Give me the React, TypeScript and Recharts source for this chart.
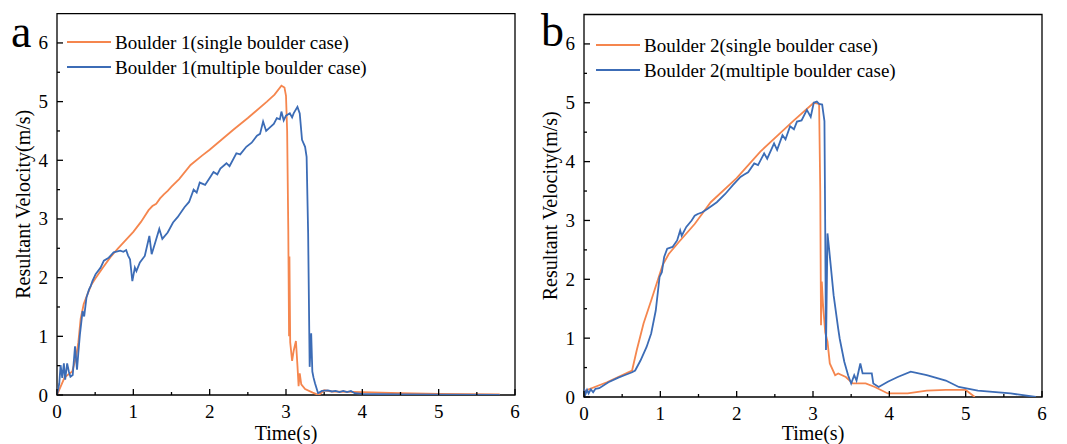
import React from 'react';
import { LineChart, Line, XAxis, YAxis, ReferenceArea, Legend, Customized } from 'recharts';

const timeTicks = [0, 0.5, 1, 1.5, 2, 2.5, 3, 3.5, 4, 4.5, 5, 5.5, 6];
const velocityTicks = [0, 0.5, 1, 1.5, 2, 2.5, 3, 3.5, 4, 4.5, 5, 5.5, 6];

const boulder1Single: [number, number][] = [
  [0, 0], [0.1, 0.3], [0.2, 0.4], [0.25, 0.65], [0.28, 0.9], [0.31, 1.3], [0.35, 1.55], [0.4, 1.72],
  [0.45, 1.88], [0.5, 1.98], [0.6, 2.17], [0.7, 2.35], [0.8, 2.5], [1.0, 2.78], [1.1, 2.95], [1.2, 3.15],
  [1.25, 3.22], [1.3, 3.26], [1.35, 3.35], [1.4, 3.42], [1.45, 3.48], [1.5, 3.55], [1.6, 3.68], [1.75, 3.92],
  [1.9, 4.08], [2.0, 4.18], [2.31, 4.52], [2.5, 4.72], [2.75, 5.0], [2.85, 5.12], [2.94, 5.27], [2.98, 5.24],
  [3.0, 5.1], [3.015, 4.5], [3.03, 2.8], [3.04, 1.0], [3.045, 2.36], [3.055, 0.9], [3.08, 0.58], [3.1, 0.75],
  [3.13, 0.92], [3.15, 0.5], [3.165, 0.15], [3.18, 0.37], [3.2, 0.18], [3.25, 0.1], [3.35, 0.04], [3.43, 0.0],
  [3.5, 0.08], [3.6, 0.06], [4.0, 0.05], [4.5, 0.03], [5.0, 0.02], [5.8, 0.01],
];

const boulder1Multiple: [number, number][] = [
  [0, 0], [0.03, 0.2], [0.047, 0.51], [0.069, 0.29], [0.09, 0.54], [0.107, 0.26], [0.133, 0.54], [0.155, 0.4],
  [0.176, 0.31], [0.206, 0.34], [0.236, 0.83], [0.262, 0.43], [0.279, 0.71], [0.3, 1.03], [0.335, 1.43],
  [0.356, 1.34], [0.386, 1.66], [0.42, 1.8], [0.44, 1.85], [0.464, 1.94], [0.506, 2.06], [0.571, 2.17],
  [0.614, 2.29], [0.678, 2.34], [0.742, 2.43], [0.828, 2.46], [0.87, 2.44], [0.906, 2.47], [0.93, 2.38],
  [0.957, 2.31], [0.987, 1.94], [1.02, 2.17], [1.04, 2.11], [1.086, 2.26], [1.15, 2.37], [1.21, 2.71],
  [1.24, 2.4], [1.28, 2.57], [1.34, 2.83], [1.38, 2.66], [1.45, 2.77], [1.52, 2.94], [1.58, 3.03],
  [1.67, 3.2], [1.73, 3.29], [1.79, 3.5], [1.83, 3.45], [1.87, 3.62], [1.94, 3.58], [2.0, 3.7], [2.05, 3.8],
  [2.1, 3.76], [2.14, 3.86], [2.22, 3.95], [2.26, 3.9], [2.35, 4.12], [2.4, 4.1], [2.48, 4.23], [2.55, 4.3],
  [2.62, 4.42], [2.66, 4.45], [2.7, 4.66], [2.74, 4.5], [2.79, 4.56], [2.84, 4.62], [2.88, 4.72], [2.92, 4.7],
  [2.94, 4.83], [2.97, 4.68], [3.0, 4.76], [3.05, 4.8], [3.08, 4.73], [3.1, 4.8], [3.15, 4.91], [3.18, 4.8],
  [3.21, 4.35], [3.25, 4.23], [3.27, 4.06], [3.29, 2.76], [3.31, 0.48], [3.33, 1.05], [3.345, 0.4], [3.36, 0.3],
  [3.38, 0.2], [3.42, 0.03], [3.47, 0.07], [3.55, 0.08], [3.6, 0.06], [3.65, 0.07], [3.7, 0.05], [3.75, 0.07],
  [3.8, 0.05], [3.85, 0.07], [3.9, 0.03], [4.0, 0.02], [4.5, 0.01], [5.0, 0.005], [5.8, 0.0],
];

const boulder2Single: [number, number][] = [
  [0, 0.1], [0.3, 0.25], [0.63, 0.45], [0.69, 0.79], [0.78, 1.25], [0.88, 1.64], [0.97, 2.0], [1.03, 2.24],
  [1.11, 2.43], [1.24, 2.63], [1.45, 2.94], [1.66, 3.31], [2.0, 3.72], [2.31, 4.17], [2.75, 4.7], [3.01, 5.0],
  [3.08, 4.98], [3.095, 3.5], [3.105, 1.22], [3.115, 1.96], [3.13, 1.6], [3.16, 1.1], [3.19, 0.94], [3.22, 0.57],
  [3.29, 0.37], [3.33, 0.4], [3.43, 0.34], [3.52, 0.23], [3.69, 0.23], [3.81, 0.17], [3.98, 0.06], [4.24, 0.06],
  [4.49, 0.11], [4.74, 0.12], [5.0, 0.12], [5.12, 0.0],
];

const boulder2Multiple: [number, number][] = [
  [0, 0.14], [0.02, 0.05], [0.04, 0.12], [0.06, 0.06], [0.09, 0.13], [0.12, 0.08], [0.15, 0.14], [0.2, 0.15],
  [0.32, 0.25], [0.45, 0.33], [0.53, 0.37], [0.63, 0.42], [0.67, 0.45], [0.74, 0.62], [0.82, 0.85], [0.88, 1.08],
  [0.94, 1.47], [0.97, 1.81], [0.99, 2.04], [1.02, 2.12], [1.05, 2.38], [1.09, 2.52], [1.16, 2.55], [1.22, 2.66],
  [1.26, 2.83], [1.28, 2.74], [1.34, 2.89], [1.41, 3.0], [1.45, 3.08], [1.49, 3.11], [1.55, 3.14], [1.62, 3.2],
  [1.74, 3.31], [1.85, 3.45], [1.95, 3.6], [2.05, 3.74], [2.1, 3.78], [2.15, 3.82], [2.23, 3.97], [2.28, 3.94],
  [2.36, 4.14], [2.4, 4.05], [2.49, 4.31], [2.53, 4.2], [2.6, 4.45], [2.64, 4.38], [2.7, 4.6], [2.75, 4.55],
  [2.79, 4.68], [2.85, 4.7], [2.92, 4.88], [2.97, 4.76], [3.01, 5.0], [3.05, 5.02], [3.08, 4.98], [3.12, 4.97],
  [3.15, 4.69], [3.16, 2.87], [3.17, 0.8], [3.19, 2.78], [3.21, 2.53], [3.27, 1.73], [3.33, 1.16], [3.35, 0.99],
  [3.41, 0.6], [3.46, 0.37], [3.5, 0.23], [3.54, 0.37], [3.57, 0.28], [3.62, 0.57], [3.65, 0.4], [3.77, 0.4],
  [3.79, 0.23], [3.86, 0.17], [3.98, 0.26], [4.11, 0.34], [4.28, 0.43], [4.49, 0.37], [4.74, 0.28], [4.91, 0.17],
  [5.16, 0.11], [5.59, 0.06], [5.92, 0.0],
];

const ORANGE = '#F5864E';
const BLUE = '#3C6CB6';
const FONT = "'Liberation Serif', 'Times New Roman', Times, 'DejaVu Serif', serif";

const toRows = (arr: [number, number][]) => arr.map(([t, v]) => ({ t, v }));

const textStyle = (size: number): React.CSSProperties => ({ fontFamily: FONT, fontSize: size });

const XTick = (props: any) => {
  const { x, y, payload } = props;
  const major = Number.isInteger(payload.value);
  return (
    <g>
      <line x1={x} x2={x} y1={y} y2={y - (major ? 6 : 3)} stroke="#000" strokeWidth={1.3} />
      {major && (
        <text x={x} y={y + 23} textAnchor="middle" style={textStyle(19)} fill="#000">
          {payload.value}
        </text>
      )}
    </g>
  );
};

const YTick = (props: any) => {
  const { x, y, payload } = props;
  const major = Number.isInteger(payload.value);
  return (
    <g>
      <line x1={x} x2={x + (major ? 6 : 3)} y1={y} y2={y} stroke="#000" strokeWidth={1.3} />
      {major && (
        <text x={x - 9} y={y + 6.5} textAnchor="end" style={textStyle(19)} fill="#000">
          {payload.value}
        </text>
      )}
    </g>
  );
};

const XLabel = (props: any) => {
  const vb = props.viewBox;
  return (
    <text x={vb.x + vb.width / 2} y={vb.y + vb.height - 4} textAnchor="middle" style={textStyle(20)} fill="#000">
      Time(s)
    </text>
  );
};

const YLabel = (props: any) => {
  const vb = props.viewBox;
  const cx = vb.x + 30;
  const cy = vb.y + vb.height / 2;
  return (
    <text x={cx} y={cy} transform={`rotate(-90, ${cx}, ${cy})`} textAnchor="middle" style={textStyle(20)} fill="#000">
      Resultant Velocity(m/s)
    </text>
  );
};

const LegendContent = (props: any) => {
  const items = [...(props.payload || [])].sort((a: any, b: any) => (a.color === ORANGE ? -1 : 1) - (b.color === ORANGE ? -1 : 1));
  return (
    <div style={{ fontFamily: FONT, fontSize: 19, color: '#000' }}>
      {items.map((p: any) => (
        <div key={p.value} style={{ display: 'flex', alignItems: 'center', height: 25, lineHeight: '25px', whiteSpace: 'nowrap' }}>
          <span style={{ display: 'inline-block', width: 44, height: 2, background: p.color, marginRight: 4 }} />
          <span>{p.value}</span>
        </div>
      ))}
    </div>
  );
};

type PanelProps = {
  letter: string;
  single: [number, number][];
  multiple: [number, number][];
  singleName: string;
  multipleName: string;
  width: number;
  top: number;
  right: number;
  xAxisHeight: number;
  legendLeft: number;
  legendTop: number;
  letterX: number;
  letterY: number;
};

const Panel = (p: PanelProps) => (
  <LineChart width={p.width} height={444} margin={{ top: p.top, right: p.right, bottom: 0, left: 0 }}>
    <XAxis
      type="number"
      dataKey="t"
      domain={[0, 6]}
      ticks={timeTicks}
      interval={0}
      allowDataOverflow
      axisLine={false}
      tickLine={false}
      tickSize={0}
      tickMargin={0}
      height={p.xAxisHeight}
      tick={XTick}
      label={{ content: XLabel }}
    />
    <YAxis
      type="number"
      domain={[0, 6.5]}
      ticks={velocityTicks}
      interval={0}
      allowDataOverflow
      axisLine={false}
      tickLine={false}
      tickSize={0}
      tickMargin={0}
      width={57}
      tick={YTick}
      label={{ content: YLabel }}
    />
    <ReferenceArea x1={0} x2={6} y1={0} y2={6.5} fill="none" stroke="#000" strokeWidth={1.3} strokeOpacity={1} fillOpacity={0} ifOverflow="visible" />
    <Line data={toRows(p.single)} dataKey="v" name={p.singleName} stroke={ORANGE} strokeWidth={1.8} dot={false} activeDot={false} isAnimationActive={false} type="linear" />
    <Line data={toRows(p.multiple)} dataKey="v" name={p.multipleName} stroke={BLUE} strokeWidth={1.8} dot={false} activeDot={false} isAnimationActive={false} type="linear" />
    <Legend
      layout="vertical"
      align="center"
      verticalAlign="middle"
      content={LegendContent}
      wrapperStyle={{ left: p.legendLeft, top: p.legendTop, width: 'auto' }}
    />
    <Customized
      component={() => (
        <text x={p.letterX} y={p.letterY} style={textStyle(46)} fill="#000">
          {p.letter}
        </text>
      )}
    />
  </LineChart>
);

export default function App() {
  return (
    <div style={{ position: 'absolute', left: 0, top: 0, width: 1067, height: 444, background: '#fff', overflow: 'hidden' }}>
      <div style={{ position: 'absolute', left: 0, top: 0 }}>
        <Panel
          letter="a"
          single={boulder1Single}
          multiple={boulder1Multiple}
          singleName="Boulder 1(single boulder case)"
          multipleName="Boulder 1(multiple boulder case)"
          width={535}
          top={13.6}
          right={20}
          xAxisHeight={49}
          legendLeft={67}
          legendTop={29.5}
          letterX={11}
          letterY={47}
        />
      </div>
      <div style={{ position: 'absolute', left: 527, top: 0 }}>
        <Panel
          letter="b"
          single={boulder2Single}
          multiple={boulder2Multiple}
          singleName="Boulder 2(single boulder case)"
          multipleName="Boulder 2(multiple boulder case)"
          width={540}
          top={14.5}
          right={25}
          xAxisHeight={47}
          legendLeft={69}
          legendTop={32.5}
          letterX={14}
          letterY={46}
        />
      </div>
    </div>
  );
}
